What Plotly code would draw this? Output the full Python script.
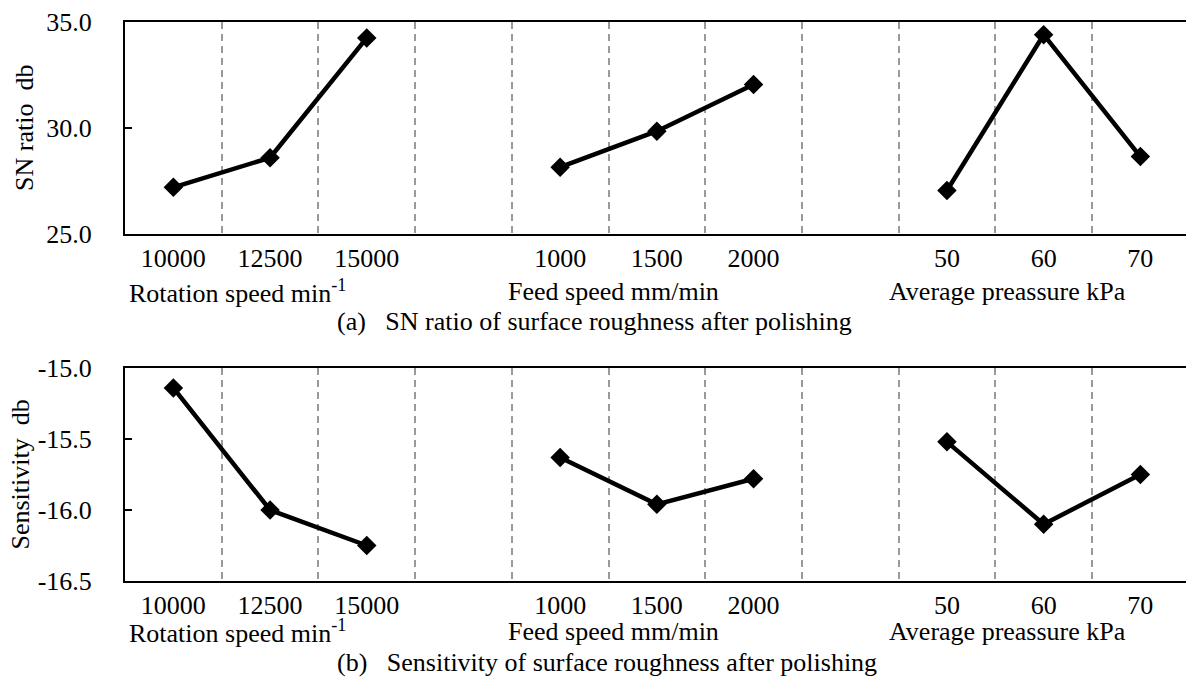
import plotly.graph_objects as go

# ---- data ----
categories = ["10000", "12500", "15000", " ", "1000", "1500", "2000", "  ", "50", "60", "70"]
rotation_levels = ["10000", "12500", "15000"]
feed_levels = ["1000", "1500", "2000"]
pressure_levels = ["50", "60", "70"]

sn_rotation = [27.2, 28.6, 34.25]
sn_feed = [28.15, 29.85, 32.05]
sn_pressure = [27.05, 34.4, 28.65]

sens_rotation = [-15.14, -16.0, -16.25]
sens_feed = [-15.63, -15.96, -15.78]
sens_pressure = [-15.52, -16.10, -15.75]

sn_ticks = [25.0, 30.0, 35.0]
sn_ticktext = ["25.0", "30.0", "35.0"]
sens_ticks = [-16.5, -16.0, -15.5, -15.0]
sens_ticktext = ["-16.5", "-16.0", "-15.5", "-15.0"]

factor_titles = ["Rotation speed min<sup>-1</sup>", "Feed speed mm/min", "Average preassure kPa"]
caption_a = "(a)\u00a0\u00a0\u00a0SN ratio of surface roughness after polishing"
caption_b = "(b)\u00a0\u00a0\u00a0Sensitivity of surface roughness after polishing"

# ---- figure ----
W, H = 1186, 678
FONT = "Liberation Serif, Times New Roman, serif"
FS = 26

fig = go.Figure()

def add_series(levels, values, xa, ya):
    fig.add_trace(go.Scatter(
        x=levels, y=values, xaxis=xa, yaxis=ya, mode="lines+markers",
        line=dict(color="black", width=4.5),
        marker=dict(symbol="diamond", size=15, color="black"),
        showlegend=False, hoverinfo="x+y"))

add_series(rotation_levels, sn_rotation, "x", "y")
add_series(feed_levels, sn_feed, "x", "y")
add_series(pressure_levels, sn_pressure, "x", "y")
add_series(rotation_levels, sens_rotation, "x2", "y2")
add_series(feed_levels, sens_feed, "x2", "y2")
add_series(pressure_levels, sens_pressure, "x2", "y2")

left_px = 125
cat_w = 96.7
xmax = -0.5 + (W - left_px) / cat_w

def px_y(y):
    return 1 - y / H

xcommon = dict(
    type="category", categoryorder="array", categoryarray=categories,
    range=[-0.5, xmax], domain=[left_px / W, 1], automargin=False,
    tickson="boundaries", ticks="", showgrid=True,
    gridcolor="#9a9a9a", gridwidth=1.5, griddash="7px,5px",
    showline=True, linecolor="black", linewidth=2, mirror=True,
    tickfont=dict(family=FONT, size=FS, color="black"),
    ticklabelstandoff=0, fixedrange=True,
)
ycommon = dict(
    showgrid=False, zeroline=False, showline=True, linecolor="black", linewidth=2,
    ticks="inside", ticklen=7, tickwidth=1.5, tickcolor="black", automargin=False,
    tickfont=dict(family=FONT, size=FS, color="black"),
    ticklabelstandoff=26, fixedrange=True,
)

top_t, top_b = 22, 234
bot_t, bot_b = 368, 581

fig.update_layout(
    template="none",
    width=W, height=H, margin=dict(l=0, r=0, t=0, b=0, pad=0),
    paper_bgcolor="white", plot_bgcolor="white",
    font=dict(family=FONT, size=FS, color="black"),
    xaxis=dict(xcommon, anchor="y"),
    yaxis=dict(ycommon, anchor="x", domain=[px_y(top_b), px_y(top_t)], range=[25, 35],
               tickvals=sn_ticks, ticktext=sn_ticktext),
    xaxis2=dict(xcommon, anchor="y2"),
    yaxis2=dict(ycommon, anchor="x2", domain=[px_y(bot_b), px_y(bot_t)], range=[-16.5, -15.0],
                tickvals=sens_ticks, ticktext=sens_ticktext),
)

ann = []
# y-axis titles
ann.append(dict(text="SN ratio\u00a0\u00a0db", x=24 / W, y=px_y((top_t + top_b) / 2),
                textangle=-90))
ann.append(dict(text="Sensitivity\u00a0\u00a0db", x=20 / W, y=px_y((bot_t + bot_b) / 2),
                textangle=-90))
# x-axis factor titles
title_x = [127, 506, 887]
for ty in (291, 631):
    for tx, t in zip(title_x, factor_titles):
        ann.append(dict(text=t, x=tx / W, y=px_y(ty), xanchor="left"))
# captions
ann.append(dict(text=caption_a, x=335 / W, y=px_y(322), xanchor="left"))
ann.append(dict(text=caption_b, x=335 / W, y=px_y(662), xanchor="left"))

for a in ann:
    a.setdefault("xanchor", "center")
    a.update(xref="paper", yref="paper", yanchor="middle", showarrow=False,
             font=dict(family=FONT, size=FS, color="black"))
fig.update_layout(annotations=ann)

fig.write_html("out.html", config={"displayModeBar": False})
